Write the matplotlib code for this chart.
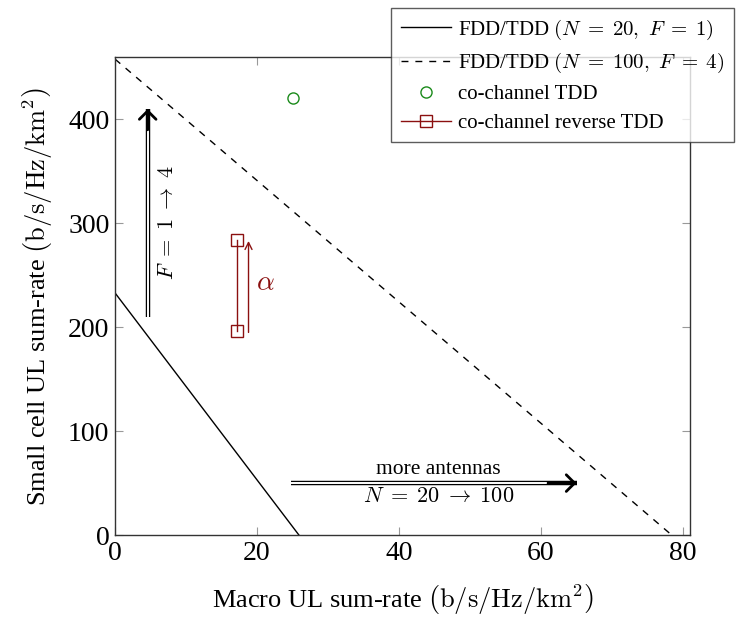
import numpy as np
import matplotlib.pyplot as plt

plt.rcParams['font.family'] = ['Liberation Serif', 'DejaVu Serif']
plt.rcParams['mathtext.fontset'] = 'cm'

# region boundaries (macro rate, small cell rate)
fdd20_x = [0, 25.9]
fdd20_y = [233, 0]
fdd100_x = [0, 78.4]
fdd100_y = [458, 0]

# co-channel points
tdd_x = [25.1]
tdd_y = [421]
rev_x = [17.2, 17.2]
rev_y = [196, 284]

red = '#8b1010'
green = '#1a8a1a'

fig = plt.figure(figsize=(7.45, 6.2), dpi=100)
ax = fig.add_axes([0.1544, 0.137, 0.772, 0.771])

ax.plot(fdd20_x, fdd20_y, color='black', lw=1.0,
        label=r'FDD/TDD $(N\;=\;20,\ F\;=\;1)$')
ax.plot(fdd100_x, fdd100_y, color='black', lw=1.0, ls=(0, (5, 5)),
        label=r'FDD/TDD $(N\;=\;100,\ F\;=\;4)$')
ax.plot(tdd_x, tdd_y, ls='none', marker='o', ms=8, mfc='none', mec=green, mew=1.0,
        label='co-channel TDD')
ax.plot(rev_x, rev_y, color=red, lw=1.0, marker='s', ms=8, mfc='none', mec=red, mew=1.0,
        label='co-channel reverse TDD')


def double_arrow(x0, y0, x1, y1):
    # double-line arrow: thick black stroke with white core, chevron head
    ax.plot([x0, x1], [y0, y1], color='black', lw=3.2, solid_capstyle='butt', zorder=3)
    fx = x1 - (x1 - x0) * 0.01
    fy = y1 - (y1 - y0) * 0.01
    ax.plot([x0, fx], [y0, fy], color='white', lw=1.4, solid_capstyle='butt', zorder=4)
    ax.annotate('', xy=(x1, y1), xytext=(x0 + (x1 - x0) * 0.9, y0 + (y1 - y0) * 0.9),
                arrowprops=dict(arrowstyle='->,head_length=0.3,head_width=0.3',
                                mutation_scale=20, color='black', lw=2.0,
                                shrinkA=0, shrinkB=0), zorder=5)


double_arrow(4.6, 210, 4.6, 410)
ax.text(7.6, 301, r'$F\;=\;1\;\rightarrow\;4$', rotation=90, ha='center', va='center',
        fontsize=16)

double_arrow(24.8, 50, 65.0, 50)
ax.text(45.6, 63.5, 'more antennas', ha='center', va='center', fontsize=15.5)
ax.text(45.6, 36, r'$N\;=\;20\;\rightarrow\;100$', ha='center', va='center', fontsize=16)

ax.annotate('', xy=(18.8, 283), xytext=(18.8, 195),
            arrowprops=dict(arrowstyle='->,head_length=0.5,head_width=0.25',
                            color=red, lw=1.0, shrinkA=0, shrinkB=0))
ax.text(19.9, 242, r'$\alpha$', color=red, fontsize=20, ha='left', va='center')

ax.set_xlim(0, 81)
ax.set_ylim(0, 460)
ax.set_xticks([0, 20, 40, 60, 80])
ax.set_yticks([0, 100, 200, 300, 400])
ax.tick_params(direction='in', length=6, width=0.8, color='#999999', labelsize=20,
               top=True, right=True, pad=4)
for s in ax.spines.values():
    s.set_color('#333333')
    s.set_linewidth(1.0)

ax.set_xlabel(r'Macro UL sum-rate $\left(\mathrm{b/s/Hz/km}^2\right)$', fontsize=19, labelpad=12)
ax.set_ylabel(r'Small cell UL sum-rate $\left(\mathrm{b/s/Hz/km}^2\right)$', fontsize=19, labelpad=10)

leg = fig.legend(loc='upper left', bbox_to_anchor=(0.525, 0.987), fontsize=15,
                 frameon=True, fancybox=False, handlelength=2.4, borderpad=0.45,
                 labelspacing=0.45, handletextpad=0.35, borderaxespad=0)
leg.get_frame().set_edgecolor('#333333')
leg.get_frame().set_linewidth(1.0)

fig.savefig('out.png', dpi=100)
